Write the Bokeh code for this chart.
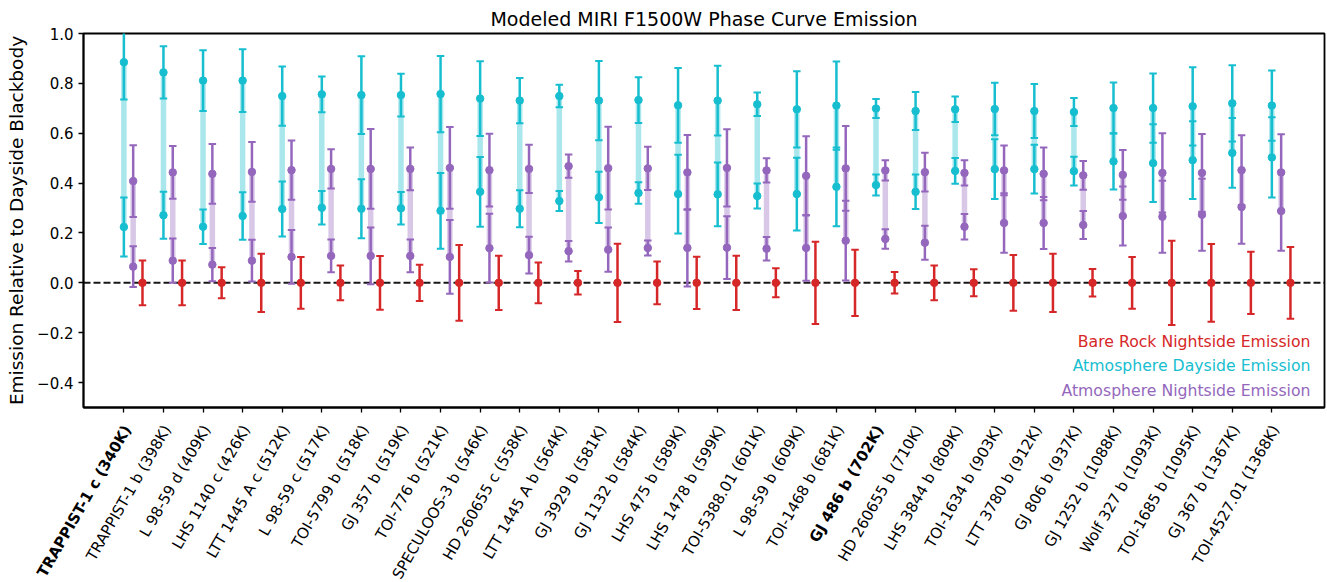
import math

import numpy as np
from bokeh.core.properties import value
from bokeh.embed import file_html
from bokeh.layouts import column, row
from bokeh.models import (ColumnDataSource, CustomJSTickFormatter, FixedTicker,
                          Label, Range1d, Span, TeeHead, Whisker)
from bokeh.plotting import figure
from bokeh.resources import INLINE

# ---- data -----------------------------------------------------------------
planets = [
    "TRAPPIST-1 c", "TRAPPIST-1 b", "L 98-59 d", "LHS 1140 c", "LTT 1445 A c",
    "L 98-59 c", "TOI-5799 b", "GJ 357 b", "TOI-776 b", "SPECULOOS-3 b",
    "HD 260655 c", "LTT 1445 A b", "GJ 3929 b", "GJ 1132 b", "LHS 475 b",
    "LHS 1478 b", "TOI-5388.01", "L 98-59 b", "TOI-1468 b", "GJ 486 b",
    "HD 260655 b", "LHS 3844 b", "TOI-1634 b", "LTT 3780 b", "GJ 806 b",
    "GJ 1252 b", "Wolf 327 b", "TOI-1685 b", "GJ 367 b", "TOI-4527.01",
]
teq_k = [340, 398, 409, 426, 512, 517, 518, 519, 521, 546, 558, 564, 581, 584,
         589, 599, 601, 609, 681, 702, 710, 809, 903, 912, 937, 1088, 1093,
         1095, 1367, 1368]
highlighted = ["TRAPPIST-1 c", "GJ 486 b"]

# atmosphere dayside emission: upper and lower scenario, with 1-sigma errors
day_upper = [0.885, 0.844, 0.811, 0.811, 0.749, 0.756, 0.753, 0.753, 0.757, 0.739,
             0.731, 0.749, 0.731, 0.733, 0.712, 0.731, 0.716, 0.696, 0.711, 0.699,
             0.689, 0.696, 0.697, 0.689, 0.685, 0.701, 0.701, 0.708, 0.720, 0.711]
day_upper_err = [0.150, 0.105, 0.122, 0.126, 0.119, 0.072, 0.156, 0.086, 0.153, 0.150,
                 0.091, 0.045, 0.159, 0.092, 0.150, 0.140, 0.047, 0.153, 0.177, 0.038,
                 0.076, 0.051, 0.105, 0.108, 0.056, 0.102, 0.139, 0.157, 0.153, 0.141]
day_lower = [0.224, 0.271, 0.225, 0.268, 0.296, 0.301, 0.297, 0.299, 0.289, 0.365,
             0.297, 0.328, 0.343, 0.360, 0.356, 0.355, 0.348, 0.356, 0.385, 0.392,
             0.365, 0.449, 0.456, 0.456, 0.448, 0.487, 0.480, 0.492, 0.521, 0.503]
day_lower_err = [0.118, 0.094, 0.069, 0.095, 0.110, 0.067, 0.118, 0.065, 0.152, 0.140,
                 0.074, 0.040, 0.103, 0.043, 0.158, 0.128, 0.050, 0.146, 0.158, 0.042,
                 0.069, 0.052, 0.120, 0.098, 0.058, 0.113, 0.156, 0.156, 0.140, 0.161]

# atmosphere nightside emission: upper and lower scenario, with 1-sigma errors
night_upper = [0.408, 0.443, 0.437, 0.445, 0.452, 0.457, 0.457, 0.457, 0.461, 0.452,
               0.457, 0.468, 0.460, 0.459, 0.443, 0.461, 0.451, 0.429, 0.459, 0.451,
               0.444, 0.441, 0.451, 0.437, 0.431, 0.433, 0.441, 0.441, 0.452, 0.443]
night_upper_err = [0.144, 0.106, 0.120, 0.120, 0.119, 0.079, 0.160, 0.086, 0.164, 0.146,
                   0.097, 0.047, 0.166, 0.087, 0.150, 0.155, 0.049, 0.159, 0.170, 0.041,
                   0.078, 0.051, 0.100, 0.106, 0.058, 0.100, 0.159, 0.156, 0.140, 0.153]
night_lower = [0.065, 0.089, 0.073, 0.089, 0.104, 0.108, 0.108, 0.108, 0.104, 0.139,
               0.111, 0.127, 0.133, 0.140, 0.140, 0.141, 0.137, 0.140, 0.169, 0.176,
               0.161, 0.225, 0.240, 0.240, 0.232, 0.268, 0.265, 0.273, 0.304, 0.288]
night_lower_err = [0.082, 0.089, 0.067, 0.084, 0.108, 0.066, 0.114, 0.066, 0.148, 0.138,
                   0.074, 0.041, 0.089, 0.030, 0.155, 0.126, 0.047, 0.132, 0.160, 0.039,
                   0.068, 0.051, 0.119, 0.104, 0.056, 0.118, 0.144, 0.144, 0.147, 0.159]

# bare rock nightside emission (zero flux) and its uncertainty
rock_night = [0.0] * 30
rock_night_err = [0.090, 0.090, 0.062, 0.117, 0.104, 0.070, 0.108, 0.073, 0.152, 0.109,
                  0.082, 0.047, 0.157, 0.086, 0.105, 0.109, 0.058, 0.165, 0.133, 0.043,
                  0.070, 0.054, 0.112, 0.117, 0.055, 0.104, 0.169, 0.156, 0.125, 0.144]

y_ticks = [-0.4, -0.2, 0.0, 0.2, 0.4, 0.6, 0.8, 1.0]

# ---- styling ----------------------------------------------------------------
FONT = "DejaVu Sans"
DAY = "#17becf"
NIGHT = "#9467bd"
ROCK = "#d62728"
NIGHT_SHIFT = 0.235   # purple column sits right of the dayside column
ROCK_SHIFT = 0.47     # red column sits right of the nightside column
LABEL_SHIFT = 0.09    # rotated tick labels are nudged right of their tick

W = 1327
MAIN_H = 422
STRIP_H = 160
BORDER_L, BORDER_R = 83, 3
X_LO, X_HI = -1.02, 30.33

idx = np.arange(len(planets), dtype=float)

p = figure(
    width=W, height=MAIN_H,
    x_range=Range1d(X_LO, X_HI), y_range=Range1d(-0.5, 1.0),
    output_backend="svg", toolbar_location=None,
    min_border_left=BORDER_L, min_border_right=BORDER_R,
    min_border_top=33, min_border_bottom=15,
    background_fill_color="white", border_fill_color="white",
)
p.grid.visible = False
p.outline_line_color = "black"
p.outline_line_width = 1.8

p.title.text = "Modeled MIRI F1500W Phase Curve Emission"
p.title.align = "center"
p.title.text_font = FONT
p.title.text_font_size = "19px"
p.title.text_font_style = "normal"
p.title.text_color = "black"
p.title.standoff = 8

for ax in (p.xaxis[0], p.yaxis[0]):
    ax.axis_line_color = "black"
    ax.axis_line_width = 1.8
    ax.major_tick_line_color = "black"
    ax.major_tick_line_width = 1.3
    ax.major_tick_out = 5
    ax.major_tick_in = 0
    ax.minor_tick_line_color = None
    ax.major_label_text_font = FONT
    ax.major_label_text_font_size = "15px"
    ax.major_label_text_color = "black"

# bottom axis carries the tick marks; its names are set in the strip below
p.xaxis.ticker = FixedTicker(ticks=list(idx))
p.xaxis.formatter = CustomJSTickFormatter(code="return '';")
p.xaxis.major_label_text_font_size = "0px"
p.xaxis.major_label_standoff = 0

p.yaxis.ticker = FixedTicker(ticks=y_ticks)
p.yaxis.formatter = CustomJSTickFormatter(
    code="return tick.toFixed(1).replace('-', '\\u2212');")
p.yaxis.major_label_standoff = 5
p.yaxis.axis_label = "Emission Relative to Dayside Blackbody"
p.yaxis.axis_label_text_font = FONT
p.yaxis.axis_label_text_font_size = "18.5px"
p.yaxis.axis_label_text_font_style = "normal"
p.yaxis.axis_label_text_color = "black"
p.yaxis.axis_label_standoff = 7

# zero-flux reference line
p.add_layout(Span(location=0, dimension="width", line_color="black",
                  line_width=2, line_dash="7 3", line_alpha=0.9, level="underlay"))


def ranged_pair(x, upper, upper_err, lower, lower_err, color):
    """Light band joining two scenarios, plus both points with error bars."""
    upper = np.asarray(upper)
    lower = np.asarray(lower)
    band = p.segment(x0=x, y0=lower, x1=x, y1=upper, line_color=color,
                     line_alpha=0.37, line_width=5.5)
    band.level = "underlay"
    xs = np.concatenate([x, x])
    ys = np.concatenate([upper, lower])
    es = np.concatenate([upper_err, lower_err])
    src = ColumnDataSource(dict(x=xs, y=ys, lo=ys - es, hi=ys + es))
    p.add_layout(Whisker(
        source=src, base="x", lower="lo", upper="hi", level="glyph",
        line_color=color, line_width=2.5,
        lower_head=TeeHead(size=7.5, line_color=color, line_width=2),
        upper_head=TeeHead(size=7.5, line_color=color, line_width=2),
    ))
    p.scatter("x", "y", source=src, size=7.5, color=color)


ranged_pair(idx, day_upper, day_upper_err, day_lower, day_lower_err, DAY)
ranged_pair(idx + NIGHT_SHIFT, night_upper, night_upper_err,
            night_lower, night_lower_err, NIGHT)

rock = np.asarray(rock_night)
rock_err = np.asarray(rock_night_err)
rock_src = ColumnDataSource(dict(x=idx + ROCK_SHIFT, y=rock,
                                 lo=rock - rock_err, hi=rock + rock_err))
p.add_layout(Whisker(
    source=rock_src, base="x", lower="lo", upper="hi", level="glyph",
    line_color=ROCK, line_width=2.5,
    lower_head=TeeHead(size=7.5, line_color=ROCK, line_width=2),
    upper_head=TeeHead(size=7.5, line_color=ROCK, line_width=2),
))
p.scatter("x", "y", source=rock_src, size=7.5, color=ROCK)

# colour-keyed legend text in the lower right corner of the frame
legend_entries = [("Bare Rock Nightside Emission", ROCK),
                  ("Atmosphere Dayside Emission", DAY),
                  ("Atmosphere Nightside Emission", NIGHT)]
for k, (txt, col) in enumerate(legend_entries):
    p.add_layout(Label(
        x=1227, y=66.5 - 24.5 * k, x_units="screen", y_units="screen",
        text=txt, text_align="right", text_baseline="middle",
        text_font=FONT, text_font_size="15.7px", text_color=col,
    ))

# ---- strip under the axis holding the rotated planet names -----------------
# same x scale as the main frame, but spanning the full width so that the
# long names on the left are not cut off
units_per_px = (X_HI - X_LO) / (W - BORDER_L - BORDER_R)
strip = figure(
    width=W, height=STRIP_H, title=None,
    x_range=Range1d(X_LO - BORDER_L * units_per_px, X_HI + BORDER_R * units_per_px),
    y_range=Range1d(-STRIP_H, 0),
    output_backend="svg", toolbar_location=None,
    x_axis_location=None, y_axis_location=None,
    min_border=0, min_border_left=0, min_border_right=0,
    min_border_top=0, min_border_bottom=0, outline_line_color=None,
    background_fill_color="white", border_fill_color="white",
)
strip.grid.visible = False

names_regular = [(i, f"{n} ({t}K)") for i, (n, t) in enumerate(zip(planets, teq_k))
                 if n not in highlighted]
names_bold = [(i, f"{n} ({t}K)") for i, (n, t) in enumerate(zip(planets, teq_k))
              if n in highlighted]
for group, style in ((names_regular, "normal"), (names_bold, "bold")):
    src = ColumnDataSource(dict(
        x=[i + LABEL_SHIFT for i, _ in group],
        y=[-4.0] * len(group),
        text=[s for _, s in group],
    ))
    strip.text("x", "y", text="text", source=src, angle=math.radians(60),
               text_align="right", text_baseline="middle",
               text_font=value(FONT), text_font_size=value("15px"),
               text_font_style=style, text_color="black")

# the strip sits in its own row so its frame keeps the full page width
layout = column(row(p), row(strip), spacing=0)
open("out.html", "w").write(file_html(layout, INLINE))
